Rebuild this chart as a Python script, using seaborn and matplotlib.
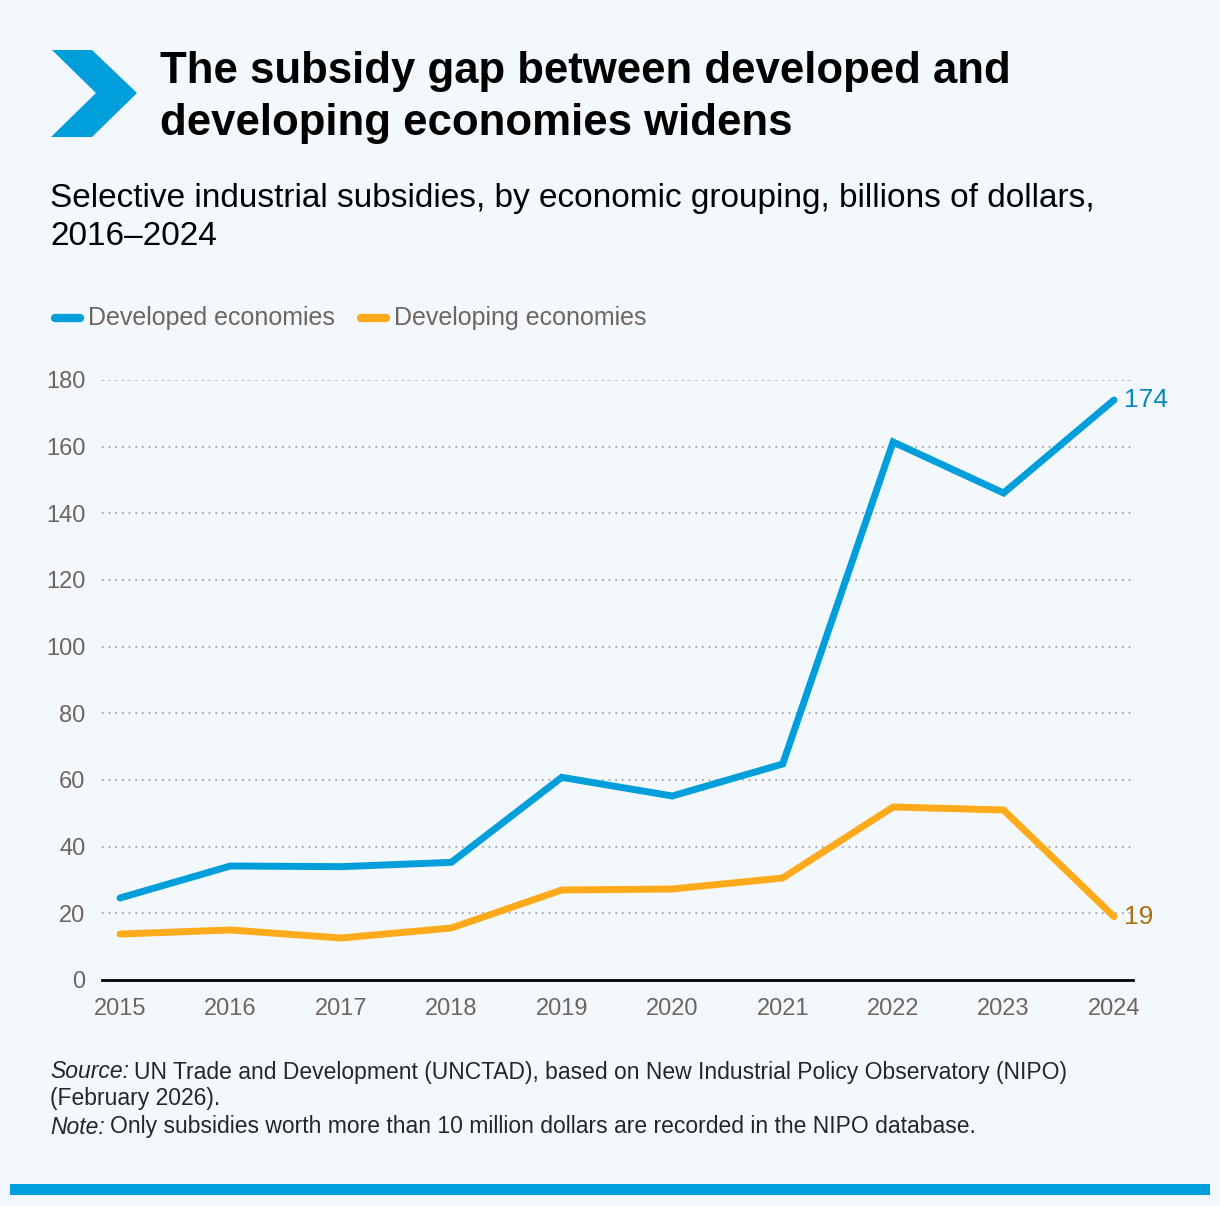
import matplotlib
matplotlib.use("Agg")
import matplotlib.pyplot as plt
import seaborn as sns
import pandas as pd
from matplotlib.patches import Polygon, Rectangle

years = [2015, 2016, 2017, 2018, 2019, 2020, 2021, 2022, 2023, 2024]
developed = [24.6, 34.2, 34.0, 35.3, 60.8, 55.2, 64.8, 161.4, 146.1, 174]
developing = [13.8, 15.0, 12.6, 15.6, 27.0, 27.3, 30.6, 51.9, 51.0, 19]
series_names = ["Developed economies", "Developing economies"]
y_ticks = [0, 20, 40, 60, 80, 100, 120, 140, 160, 180]

blue = "#009EDB"
orange = "#FFAA1A"
grey = "#6E6560"
bg = "#F3F8FC"

df = pd.DataFrame({
    "year": years * 2,
    "value": developed + developing,
    "group": [series_names[0]] * len(years) + [series_names[1]] * len(years),
})

sns.set_theme(style="white")
plt.rcParams["font.family"] = ["Liberation Sans", "DejaVu Sans"]
narrow = ["Liberation Sans Narrow", "Liberation Sans", "DejaVu Sans"]

W, H = 1220, 1206
fig = plt.figure(figsize=(W / 100, H / 100), dpi=100, facecolor=bg)

def fx(x):
    return x / W

def fy(y):
    return 1 - y / H

ax = fig.add_axes([fx(102), fy(980), fx(1133) - fx(102), fy(380) - fy(980)])
ax.set_facecolor(bg)

sns.lineplot(data=df, x="year", y="value", hue="group",
             palette=[blue, orange], linewidth=5, ax=ax, legend=False,
             solid_capstyle="round", solid_joinstyle="miter")

ax.set_xlim(2014.837, 2024.172)
ax.set_ylim(0, 180)
ax.set_yticks(y_ticks)
ax.set_xticks(years)
ax.set_xticklabels([str(y) for y in years])
ax.set_xlabel("")
ax.set_ylabel("")
for s in ["top", "right", "left"]:
    ax.spines[s].set_visible(False)
ax.spines["bottom"].set_color("black")
ax.spines["bottom"].set_linewidth(2)
for y in y_ticks[1:]:
    ax.axhline(y, color="#9A9A9A", linestyle=(0, (1, 3)), linewidth=1.2, zorder=0)
ax.tick_params(axis="both", length=0, labelsize=17, labelcolor=grey)
ax.tick_params(axis="y", pad=12)
ax.tick_params(axis="x", pad=13)
for lab in ax.get_xticklabels() + ax.get_yticklabels():
    lab.set_family(narrow)

# end labels
ax.annotate(f"{developed[-1]:.0f}", (years[-1], developed[-1]), xytext=(7, 0),
            textcoords="offset points", color="#0A86C4", fontsize=19,
            family=narrow, va="center", ha="left")
ax.annotate(f"{developing[-1]:.0f}", (years[-1], developing[-1]), xytext=(7, 0),
            textcoords="offset points", color="#A8700E", fontsize=19,
            family=narrow, va="center", ha="left")

# chevron
chev = Polygon([(fx(52), fy(50)), (fx(92), fy(50)), (fx(137), fy(93)),
                (fx(92), fy(137)), (fx(51), fy(137)), (fx(96), fy(93))],
               closed=True, transform=fig.transFigure, color=blue, lw=0)
fig.patches.append(chev)

fig.text(fx(160), fy(72), "The subsidy gap between developed and",
         fontsize=31.5, fontweight="bold", color="black", va="center")
fig.text(fx(160), fy(124), "developing economies widens",
         fontsize=31.5, fontweight="bold", color="black", va="center")

fig.text(fx(50), fy(198),
         "Selective industrial subsidies, by economic grouping, billions of dollars,",
         fontsize=24, color="black", va="center")
fig.text(fx(50), fy(237), "2016\u20132024", fontsize=24, color="black", va="center")

# legend
fig.add_artist(plt.Line2D([fx(55), fx(80)], [fy(318), fy(318)], color=blue,
                          lw=6, solid_capstyle="round", transform=fig.transFigure))
fig.text(fx(88), fy(318), series_names[0], fontsize=18, color=grey,
         family=narrow, va="center")
fig.add_artist(plt.Line2D([fx(361), fx(386)], [fy(318), fy(318)], color=orange,
                          lw=6, solid_capstyle="round", transform=fig.transFigure))
fig.text(fx(394), fy(318), series_names[1], fontsize=18, color=grey,
         family=narrow, va="center")

# notes
fs = 16.5
renderer = fig.canvas.get_renderer()

def note(y, head, body):
    t = fig.text(fx(50), fy(y), head, fontsize=fs, style="italic", va="center")
    w = t.get_window_extent(renderer=renderer).width
    fig.text(fx(50 + w + 5), fy(y), body, fontsize=fs, va="center")

note(1072, "Source:", "UN Trade and Development (UNCTAD), based on New Industrial Policy Observatory (NIPO)")
fig.text(fx(50), fy(1099), "(February 2026).", fontsize=fs, va="center")
note(1127, "Note:", "Only subsidies worth more than 10 million dollars are recorded in the NIPO database.")

fig.patches.append(Rectangle((fx(10), fy(1195)), fx(1210) - fx(10), fy(1184) - fy(1195),
                             transform=fig.transFigure, color=blue, lw=0))

fig.savefig("out.png", dpi=100, facecolor=bg)
